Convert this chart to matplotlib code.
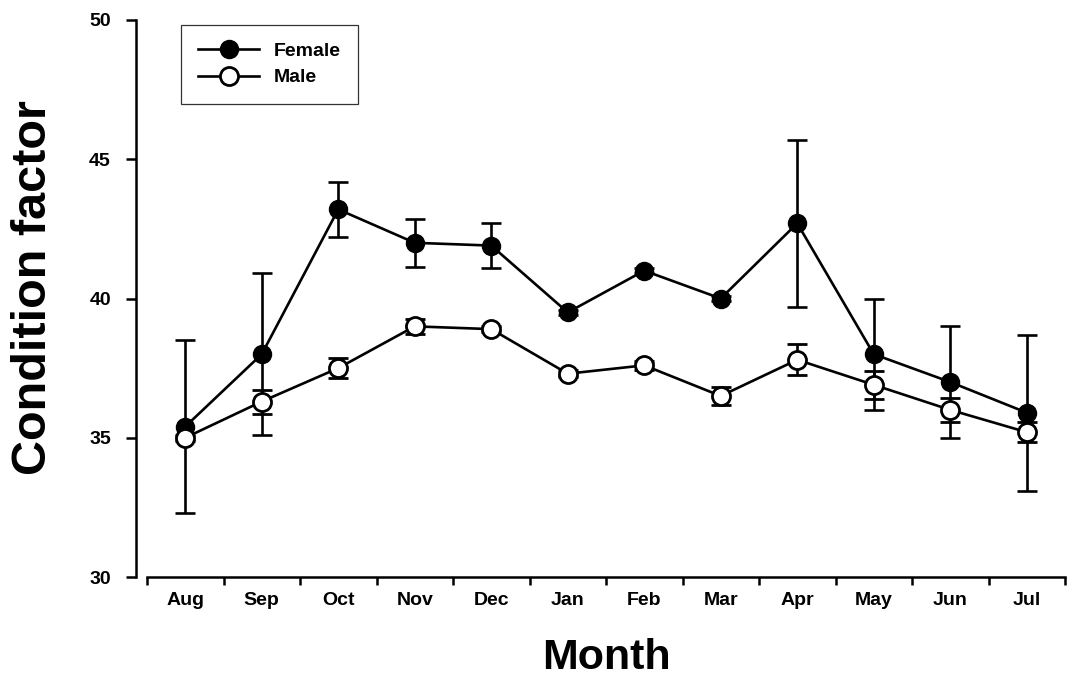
import numpy as np
import matplotlib
matplotlib.use("Agg")
import matplotlib.pyplot as plt
from matplotlib.lines import Line2D

plt.rcParams["font.family"] = ["Liberation Sans", "DejaVu Sans"]
plt.rcParams["font.weight"] = "bold"

months = ["Aug", "Sep", "Oct", "Nov", "Dec", "Jan", "Feb", "Mar", "Apr", "May", "Jun", "Jul"]

female_mean = [35.4, 38.0, 43.2, 42.0, 41.9, 39.5, 41.0, 40.0, 42.7, 38.0, 37.0, 35.9]
female_err = [3.1, 2.9, 1.0, 0.86, 0.8, 0.1, 0.1, 0.1, 3.0, 2.0, 2.0, 2.8]

male_mean = [35.0, 36.3, 37.5, 39.0, 38.9, 37.3, 37.6, 36.5, 37.8, 36.9, 36.0, 35.2]
male_err = [0.1, 0.43, 0.35, 0.27, 0.1, 0.12, 0.15, 0.33, 0.55, 0.5, 0.43, 0.35]

x = np.arange(len(months)) + 0.5

fig = plt.figure(figsize=(10.68, 6.8), dpi=100)
ax = fig.add_axes([147 / 1068, 1 - 577 / 680, (1065 - 147) / 1068, (577 - 20) / 680])

style = dict(color="black", lw=1.9, ms=13, capsize=7, capthick=1.9, elinewidth=1.9)
ax.errorbar(x, female_mean, yerr=female_err, fmt="-o", mfc="black", mec="black",
            zorder=2, **style)
ax.errorbar(x, male_mean, yerr=male_err, fmt="-o", mfc="white", mec="black",
            mew=2.0, zorder=3, **style)

ax.set_xlim(0, 12)
ax.set_ylim(30, 50)
ax.set_yticks([30, 35, 40, 45, 50])

# month boundaries get tick marks, labels sit in between
ax.set_xticks(np.arange(0, 13))
ax.set_xticklabels([])
ax.set_xticks(x, minor=True)
ax.set_xticklabels(months, minor=True)
ax.tick_params(axis="x", which="major", direction="out", length=6, width=1.8)
ax.tick_params(axis="x", which="minor", length=0, pad=11, labelsize=14)
ax.tick_params(axis="y", direction="out", length=7, width=1.8, pad=11, labelsize=14)

for side in ["top", "right"]:
    ax.spines[side].set_visible(False)
ax.spines["left"].set_position(("outward", 8))
ax.spines["left"].set_linewidth(1.8)
ax.spines["bottom"].set_linewidth(1.8)

ax.set_ylabel("Condition factor", fontsize=35, fontweight="bold", labelpad=24)
ax.yaxis.label.set_y(0.52)
ax.set_xlabel("Month", fontsize=31, fontweight="bold", labelpad=21)

handles = [
    Line2D([], [], color="black", lw=1.9, marker="o", ms=13, mfc="black", mec="black"),
    Line2D([], [], color="black", lw=1.9, marker="o", ms=13, mfc="white", mec="black", mew=2.0),
]
leg = ax.legend(handles, ["Female", "Male"], loc="upper left",
                bbox_to_anchor=(0.037, 0.991), borderaxespad=0, fontsize=14,
                handlelength=3.1, frameon=True, fancybox=False, borderpad=0.9,
                labelspacing=0.45, handletextpad=0.75)
leg.get_frame().set_edgecolor("black")
leg.get_frame().set_linewidth(0.9)

fig.savefig("out.png", dpi=100)
